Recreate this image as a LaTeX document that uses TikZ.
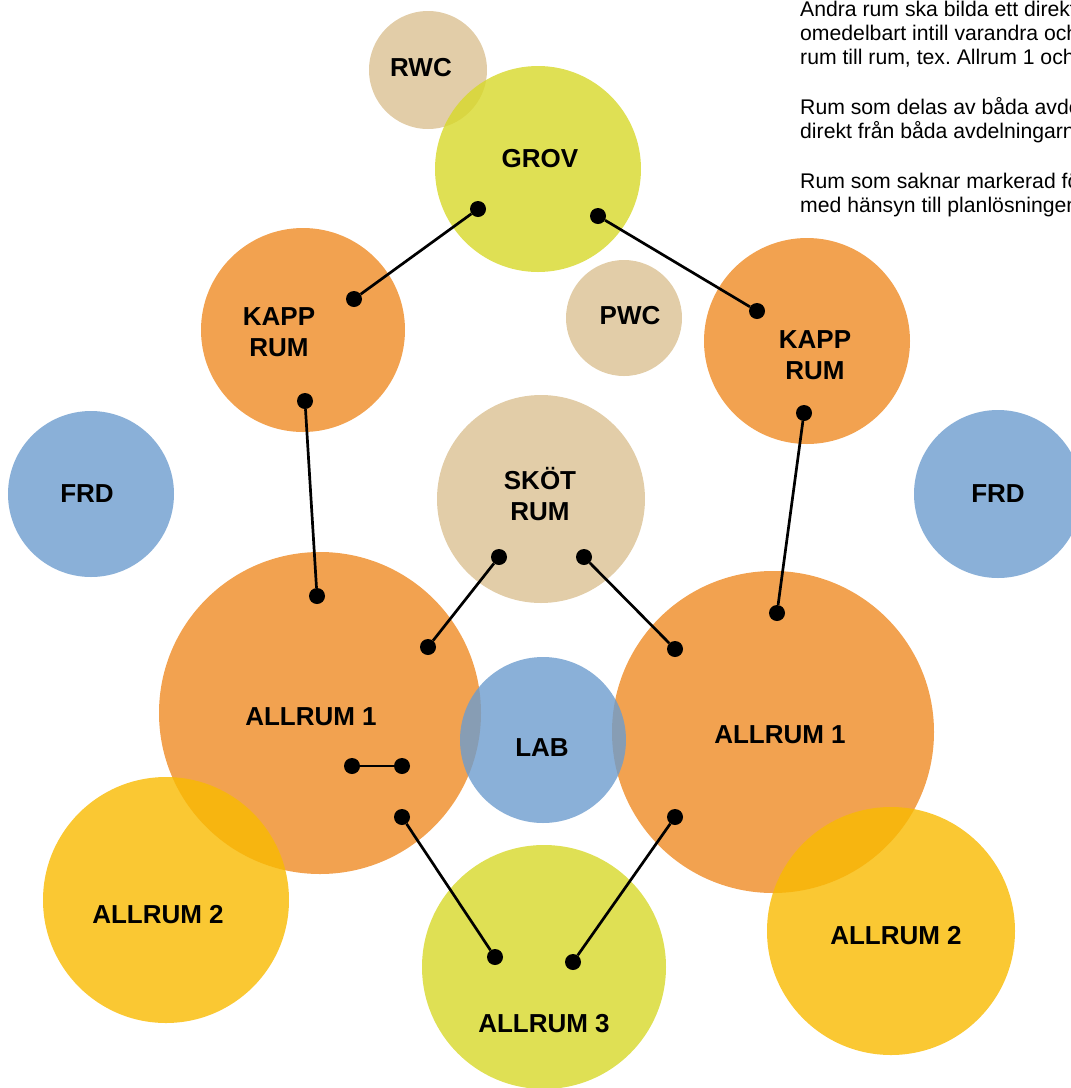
\documentclass[tikz,border=0pt]{standalone}
\usepackage{fontspec}
\setmainfont{Liberation Sans}
\usepackage{tikz}
\usetikzlibrary{positioning}
\definecolor{rumorange}{RGB}{239,139,36}
\definecolor{rumgul}{RGB}{249,186,0}
\definecolor{rumgron}{RGB}{215,216,41}
\definecolor{rumbeige}{RGB}{219,193,146}
\definecolor{rumbla}{RGB}{109,156,206}

\begin{document}
\begin{tikzpicture}[
        x=1pt, y=-1pt,
        room/.style={circle, inner sep=0pt, fill opacity=0.8},
        roomtext/.style={font=\fontsize{26}{31}\bfseries\selectfont, align=center, inner sep=0pt},
        pin/.style={circle, fill=black, inner sep=0pt, minimum size=16pt},
        link/.style={line width=2.7pt}
    ]

    \useasboundingbox (0,0) rectangle (1071,1088);

    %=== Room macro ===%
    \newcommand{\rumcircle}[5]{
        \node[room, fill=#5, minimum size={2*#4pt}] (#1) at (#2,#3) {};
    }

    %=== ROOMS ===%
    \rumcircle{rwc}{428}{70}{59}{rumbeige};
    \rumcircle{grov}{538}{169}{103}{rumgron};
    \rumcircle{pwc}{624}{318}{58}{rumbeige};
    \rumcircle{kappv}{303}{330}{102}{rumorange};
    \rumcircle{kapph}{807}{341}{103}{rumorange};
    \rumcircle{frdv}{91}{494}{83}{rumbla};
    \rumcircle{frdh}{998}{494}{84}{rumbla};
    \rumcircle{skot}{541}{499}{104}{rumbeige};
    \rumcircle{allv}{320}{713}{161}{rumorange};
    \rumcircle{allh}{773}{732}{161}{rumorange};
    \rumcircle{lab}{543}{740}{83}{rumbla};
    \rumcircle{alltv}{166}{900}{123}{rumgul};
    \rumcircle{allth}{891}{931}{124}{rumgul};
    \rumcircle{alltre}{544}{967}{122}{rumgron};

    %=== Labels ===%
    \node[roomtext] (trwc) at (421,68) {RWC};
    \node[roomtext] (tgrov) at (540,159) {GROV};
    \node[roomtext] (tpwc) at (630,316) {PWC};
    \node[roomtext] (tkappv) at (279,332) {KAPP\\RUM};
    \node[roomtext] (tkapph) at (815,355) {KAPP\\RUM};
    \node[roomtext] (tfrdv) at (87,494) {FRD};
    \node[roomtext] (tfrdh) at (998,494) {FRD};
    \node[roomtext] (tskot) at (540,494) {SKÖT\\RUM};
    \node[roomtext] (tallv) at (311,717) {ALLRUM 1};
    \node[roomtext] (tallh) at (780,735) {ALLRUM 1};
    \node[roomtext] (tlab) at (542,748) {LAB};
    \node[roomtext] (talltv) at (158,915) {ALLRUM 2};
    \node[roomtext] (tallth) at (896,936) {ALLRUM 2};
    \node[roomtext] (talltre) at (544,1024) {ALLRUM 3};

    % Note, cut at the page edge
    \node[anchor=north west, align=left, inner sep=0pt,
        font=\fontsize{21.2}{24}\selectfont] (note) at (800,0.5) {%
        Andra rum ska bilda ett direkt\\
        omedelbart intill varandra och\\
        rum till rum, tex.\ Allrum 1 och\\[26pt]
        Rum som delas av båda avde\\
        direkt från båda avdelningarna\\[26pt]
        Rum som saknar markerad fö\\
        med hänsyn till planlösningen};

    %=== Pins ===%
    \node[pin] (g1) at (478,209) {};
    \node[pin] (g2) at (598,216) {};
    \node[pin] (kv1) at (354,299) {};
    \node[pin] (kv2) at (305,401) {};
    \node[pin] (kh1) at (757,311) {};
    \node[pin] (kh2) at (804,413) {};
    \node[pin] (s1) at (499,557) {};
    \node[pin] (s2) at (584,557) {};
    \node[pin] (av1) at (317,596) {};
    \node[pin] (av2) at (428,647) {};
    \node[pin] (av3) at (352,766) {};
    \node[pin] (av4) at (402,766) {};
    \node[pin] (av5) at (402,817) {};
    \node[pin] (ah1) at (777,613) {};
    \node[pin] (ah2) at (675,649) {};
    \node[pin] (ah3) at (675,817) {};
    \node[pin] (a31) at (495,957) {};
    \node[pin] (a32) at (573,962) {};

    %=== Links ===%
    \draw[link] (g1) -- (kv1);
    \draw[link] (g2) -- (kh1);
    \draw[link] (kv2) -- (av1);
    \draw[link] (kh2) -- (ah1);
    \draw[link] (s1) -- (av2);
    \draw[link] (s2) -- (ah2);
    \draw[link] (av3) -- (av4);
    \draw[link] (av5) -- (a31);
    \draw[link] (ah3) -- (a32);

\end{tikzpicture}
\end{document}
